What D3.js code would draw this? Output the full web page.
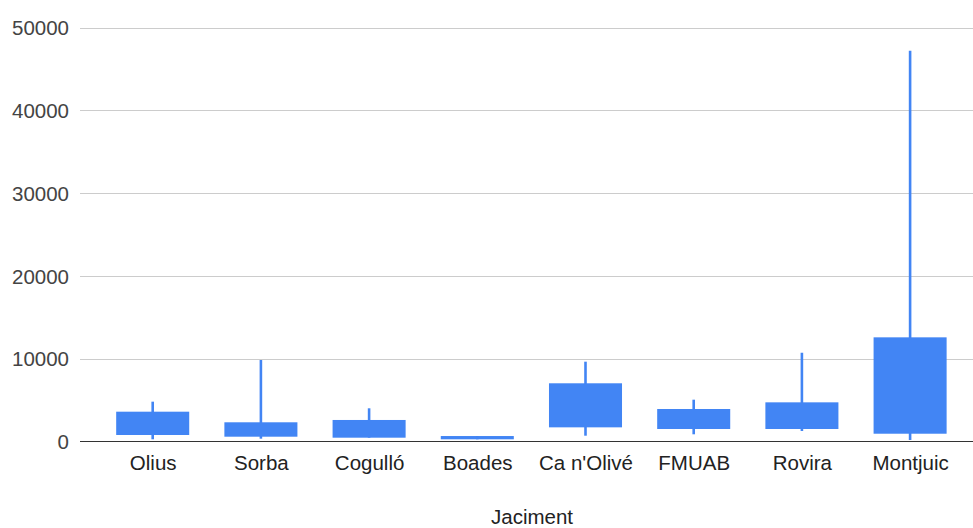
<!DOCTYPE html>
<html>
<head>
<meta charset="utf-8">
<script src="https://cdn.jsdelivr.net/npm/d3@7"></script>
<style>
  html, body { margin: 0; padding: 0; background: #fff; }
  svg { display: block; }
  text { font-family: "Liberation Sans", Arial, sans-serif; }
</style>
</head>
<body>
<svg id="chart" width="973" height="528"></svg>
<script>
const categories = ["Olius", "Sorba", "Cogulló", "Boades", "Ca n'Olivé", "FMUAB", "Rovira", "Montjuic"];
const lowValues     = [265, 340, 460, 265, 700, 870, 1270, 180];
const boxLowValues  = [785, 580, 460, 265, 1710, 1510, 1510, 940];
const boxHighValues = [3600, 2320, 2600, 660, 7030, 3925, 4730, 12580];
const highValues    = [4810, 9840, 4010, 660, 9640, 5050, 10720, 47200];
const yTicks = [0, 10000, 20000, 30000, 40000, 50000];
const xTitle = "Jaciment";

const data = categories.map((c, i) => ({
  cat: c, low: lowValues[i], boxLow: boxLowValues[i], boxHigh: boxHighValues[i], high: highValues[i]
}));

const FONT = "\"Liberation Sans\", Arial, sans-serif";
const FS = 20.5;
const svg = d3.select("#chart");
const plotLeft = 80, plotRight = 973;
const y = d3.scaleLinear().domain([0, 50000]).range([441.5, 27.5]);
const x = d3.scalePoint().domain(categories).range([98.6, 964.2]).padding(0.5);
const boxW = x.step() * 0.675;
const color = "#4285F4";

// gridlines
svg.append("g")
  .selectAll("line")
  .data(yTicks.filter(t => t !== 0))
  .join("line")
  .attr("x1", plotLeft).attr("x2", plotRight)
  .attr("y1", d => Math.round(y(d)) + 0.5).attr("y2", d => Math.round(y(d)) + 0.5)
  .attr("stroke", "#cccccc").attr("stroke-width", 1);

// y axis labels
const yAxis = d3.axisLeft(y).tickValues(yTicks).tickSize(0).tickPadding(0).tickFormat(d3.format("d"));
const gy = svg.append("g").attr("transform", "translate(69,0)").call(yAxis);
gy.select(".domain").remove();
gy.selectAll("text")
  .attr("font-family", FONT)
  .attr("font-size", FS).attr("fill", "#444").attr("dy", "0.35em");

// candles
const g = svg.append("g");
g.selectAll("line.wick")
  .data(data)
  .join("line")
  .attr("class", "wick")
  .attr("x1", d => x(d.cat)).attr("x2", d => x(d.cat))
  .attr("y1", d => y(d.high)).attr("y2", d => y(d.low))
  .attr("stroke", color).attr("stroke-width", 2.6);
g.selectAll("rect.box")
  .data(data)
  .join("rect")
  .attr("class", "box")
  .attr("x", d => x(d.cat) - boxW / 2)
  .attr("width", boxW)
  .attr("y", d => y(d.boxHigh))
  .attr("height", d => Math.max(2, y(d.boxLow) - y(d.boxHigh)))
  .attr("fill", color);

// baseline
svg.append("line")
  .attr("x1", plotLeft).attr("x2", plotRight)
  .attr("y1", y(0)).attr("y2", y(0))
  .attr("stroke", "#333").attr("stroke-width", 1.2);

// x axis labels
const xAxis = d3.axisBottom(x).tickSize(0).tickPadding(0);
const gx = svg.append("g").attr("transform", "translate(0,470)").call(xAxis);
gx.select(".domain").remove();
gx.selectAll("text")
  .attr("font-family", FONT)
  .attr("font-size", FS).attr("fill", "#222").attr("dy", 0).attr("y", 0);

// x title
svg.append("text")
  .attr("x", 532).attr("y", 523.5)
  .attr("text-anchor", "middle")
  .attr("font-family", FONT)
  .attr("font-size", FS).attr("fill", "#222")
  .text(xTitle);
</script>
</body>
</html>
